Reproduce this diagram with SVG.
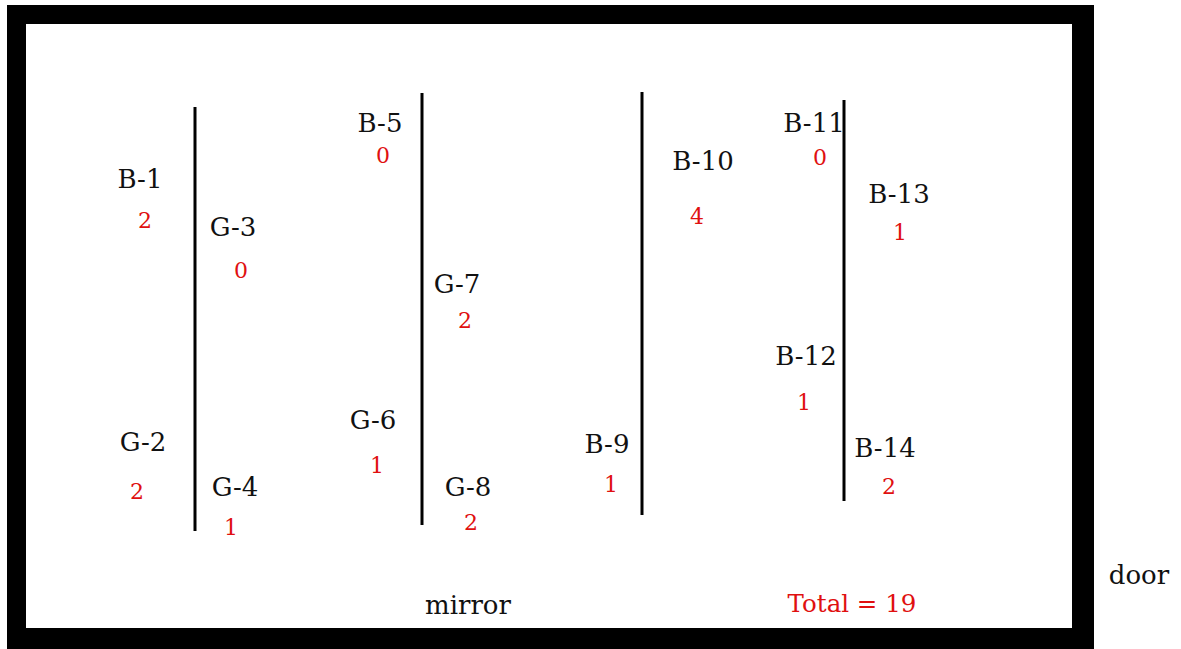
<svg xmlns="http://www.w3.org/2000/svg" width="1181" height="649" viewBox="0 0 1181 649">
<style>
.lbl{font-family:"DejaVu Serif","Liberation Serif",serif;font-size:26px;fill:#111;text-anchor:middle}
.num{font-family:"DejaVu Serif","Liberation Serif",serif;font-size:22px;fill:#e01010;text-anchor:middle}
.wall{stroke:#000;stroke-width:3;fill:none}
</style>
<rect width="1181" height="649" fill="#fff"/>
<path id="room" d="M7 5H1094V649H7Z M26 24V628H1072V24Z" fill="#000" fill-rule="evenodd"/>
<g id="connectors">
<line class="wall" x1="195" y1="107" x2="195" y2="531"/>
<line class="wall" x1="422" y1="93" x2="422" y2="525"/>
<line class="wall" x1="642" y1="92" x2="642" y2="515"/>
<line class="wall" x1="844" y1="100" x2="844" y2="501"/>
</g>
<g id="B-1"><text class="lbl" x="140" y="188">B-1</text><text class="num" x="145" y="228">2</text></g>
<g id="G-3"><text class="lbl" x="233" y="236">G-3</text><text class="num" x="241" y="278">0</text></g>
<g id="B-5"><text class="lbl" x="380" y="132">B-5</text><text class="num" x="383" y="163">0</text></g>
<g id="G-7"><text class="lbl" x="457" y="293">G-7</text><text class="num" x="465" y="328">2</text></g>
<g id="G-2"><text class="lbl" x="143" y="451">G-2</text><text class="num" x="137" y="499">2</text></g>
<g id="G-4"><text class="lbl" x="235" y="496">G-4</text><text class="num" x="231" y="535">1</text></g>
<g id="G-6"><text class="lbl" x="373" y="429">G-6</text><text class="num" x="377" y="473">1</text></g>
<g id="G-8"><text class="lbl" x="468" y="496">G-8</text><text class="num" x="471" y="530">2</text></g>
<g id="B-9"><text class="lbl" x="607" y="453">B-9</text><text class="num" x="611" y="492">1</text></g>
<g id="B-10"><text class="lbl" x="703" y="170">B-10</text><text class="num" x="697" y="224">4</text></g>
<g id="B-11"><text class="lbl" x="814" y="132">B-11</text><text class="num" x="820" y="165">0</text></g>
<g id="B-13"><text class="lbl" x="899" y="203">B-13</text><text class="num" x="900" y="240">1</text></g>
<g id="B-12"><text class="lbl" x="806" y="365">B-12</text><text class="num" x="804" y="410">1</text></g>
<g id="B-14"><text class="lbl" x="885" y="457">B-14</text><text class="num" x="889" y="494">2</text></g>
<g id="mirror"><text class="lbl" x="468" y="614">mirror</text></g>
<g id="total"><text class="num" style="font-size:24.5px" x="852" y="612">Total = 19</text></g>
<g id="door"><text class="lbl" x="1139" y="584">door</text></g>
</svg>
